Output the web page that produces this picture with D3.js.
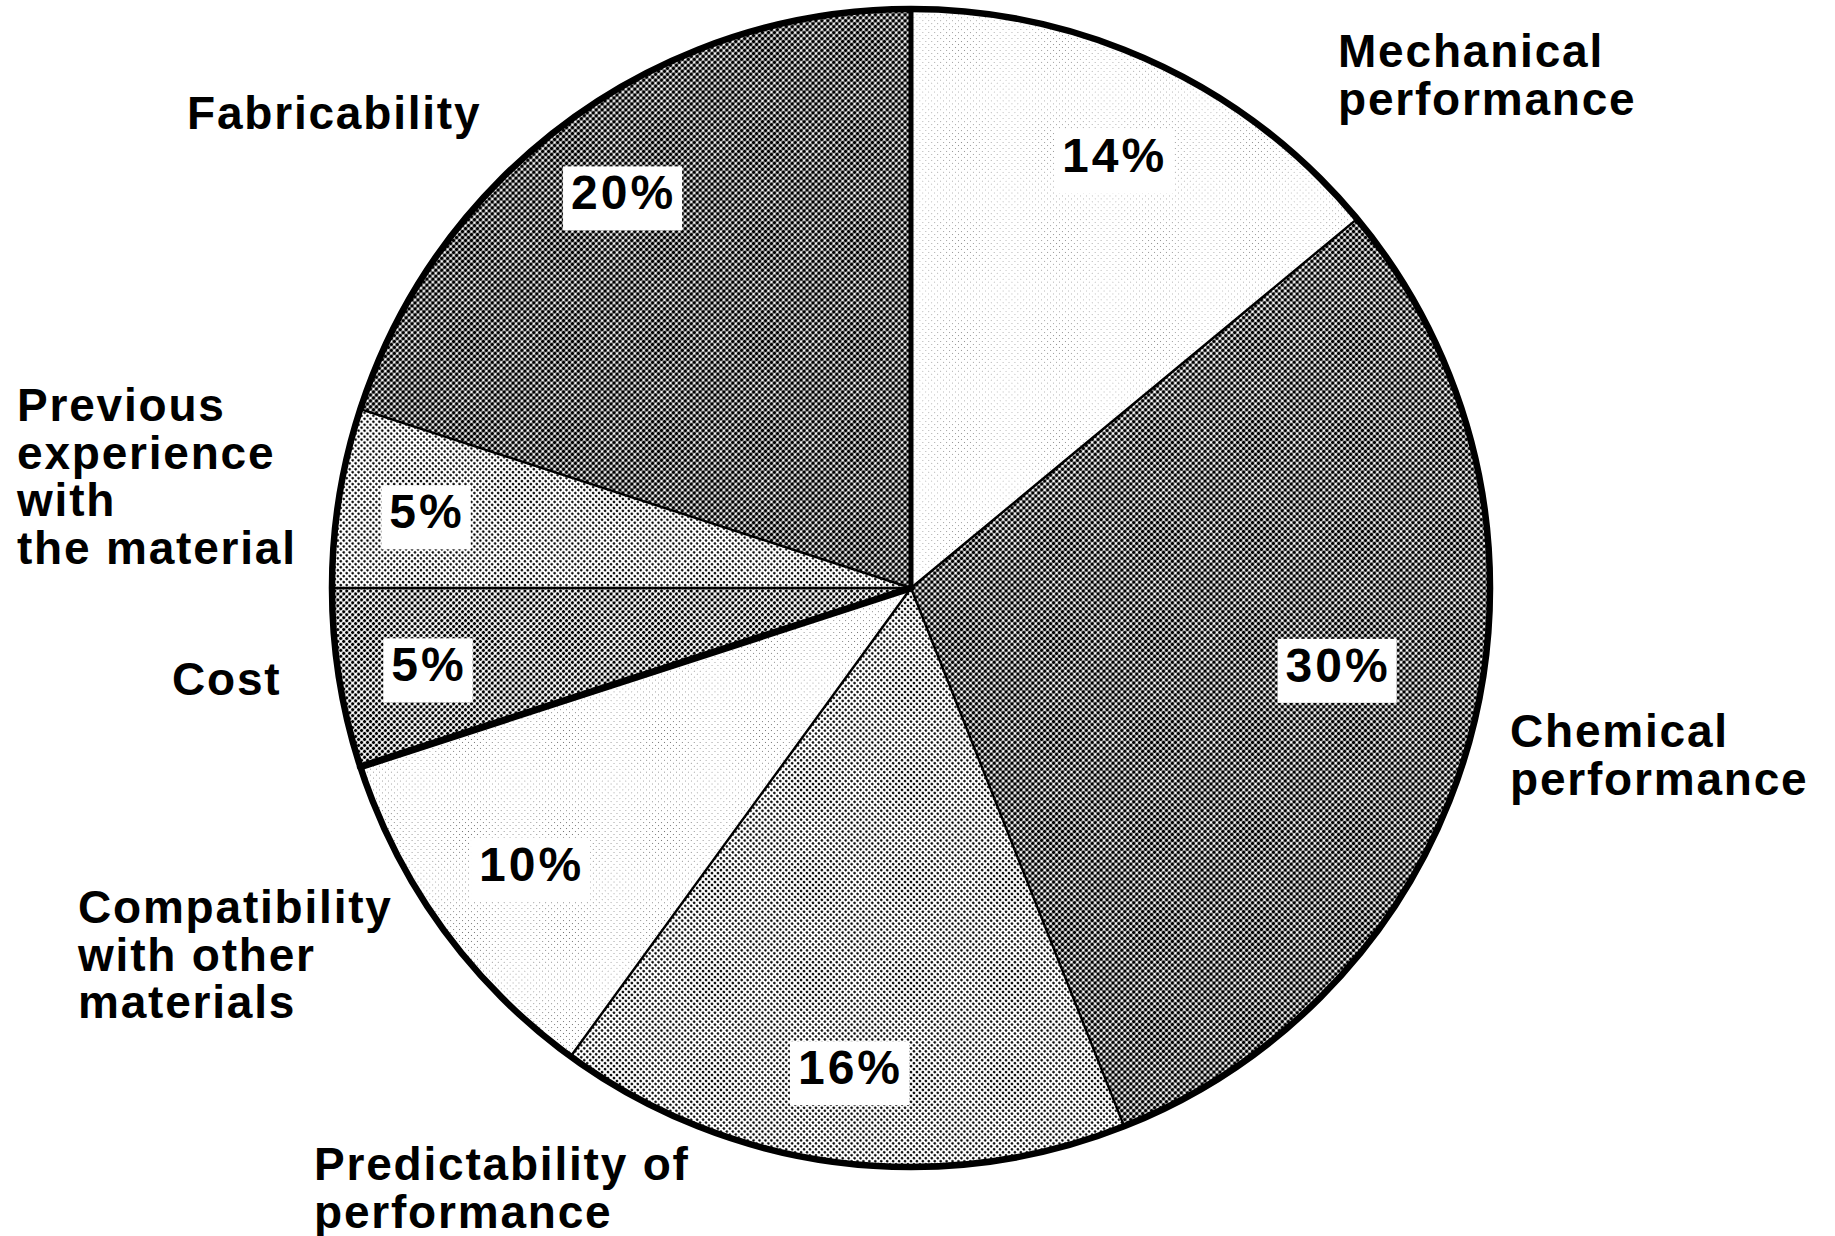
<!DOCTYPE html>
<html>
<head>
<meta charset="utf-8">
<script src="https://cdn.jsdelivr.net/npm/d3@7"></script>
<style>
  html, body { margin: 0; padding: 0; background: #fff; }
  svg text { font-family: "Liberation Sans", Arial, Helvetica, sans-serif; font-weight: bold; fill: #000; }
</style>
</head>
<body>
<svg id="chart" width="1835" height="1236"></svg>
<script>
// ---- data ----
const categories = [
  "Mechanical performance",
  "Chemical performance",
  "Predictability of performance",
  "Compatibility with other materials",
  "Cost",
  "Previous experience with the material",
  "Fabricability"
];
const shares = [14, 30, 16, 10, 5, 5, 20];
const shareLabels = ["14%", "30%", "16%", "10%", "5%", "5%", "20%"];
const labelLines = [
  ["Mechanical", "performance"],
  ["Chemical", "performance"],
  ["Predictability of", "performance"],
  ["Compatibility", "with other", "materials"],
  ["Cost"],
  ["Previous", "experience", "with", "the material"],
  ["Fabricability"]
];

// ---- styling / layout ----
const W = 1835, H = 1236;
const cx = 911, cy = 588, R = 579;
// halftone ink coverage of each slice's screen
const inkCoverage = [0.02, 0.58, 0.30, 0.03, 0.45, 0.29, 0.60];
const screenPitch = 4.2;
// category label anchors (left edge, first baseline)
const labelAnchor = [[1338, 67], [1510, 747], [314, 1180], [78, 923], [172, 695], [17, 421], [187, 129]];
const lineStep = 47.5;
// percentage label placement: distance from centre, angular shift from slice middle (deg)
const pctRadius = [478, 434, 483, 469, 488, 490, 489];
const pctShift = [0, -4.2, 0, 0, 0, 0, 0];

const svg = d3.select("#chart");
const defs = svg.append("defs");

// halftone screens
inkCoverage.forEach((c, i) => {
  const pat = defs.append("pattern")
    .attr("id", "screen" + i)
    .attr("patternUnits", "userSpaceOnUse")
    .attr("width", screenPitch).attr("height", screenPitch)
    .attr("patternTransform", "rotate(45)");
  pat.append("rect").attr("width", screenPitch).attr("height", screenPitch).attr("fill", "#fff");
  const r = screenPitch * Math.sqrt(c / Math.PI);
  pat.append("circle").attr("cx", screenPitch / 2).attr("cy", screenPitch / 2).attr("r", r).attr("fill", "#000");
});

const pie = d3.pie().sort(null).value(d => d)(shares);
const arc = d3.arc().innerRadius(0).outerRadius(R);

const g = svg.append("g").attr("transform", `translate(${cx},${cy})`);

g.selectAll("path.slice")
  .data(pie)
  .join("path")
  .attr("class", "slice")
  .attr("d", arc)
  .attr("fill", (d, i) => `url(#screen${i})`)
  .attr("stroke", "none");

// radial dividing lines at each slice start
const polar = (r, a) => [r * Math.sin(a), -r * Math.cos(a)];
g.selectAll("line.divider")
  .data(pie)
  .join("line")
  .attr("class", "divider")
  .attr("x1", 0).attr("y1", 0)
  .attr("x2", d => polar(R, d.startAngle)[0])
  .attr("y2", d => polar(R, d.startAngle)[1])
  .attr("stroke", "#000")
  .attr("stroke-width", (d, i) => i === 0 ? 5 : (i === 4 ? 7 : 2.4))
  .attr("stroke-linecap", "round");

// outer rim
g.append("circle").attr("r", R).attr("fill", "none").attr("stroke", "#000").attr("stroke-width", 6.5);

// percentage labels on white boxes
const pctFont = 48;
const pctG = g.selectAll("g.pct")
  .data(pie)
  .join("g")
  .attr("class", "pct")
  .attr("transform", (d, i) => {
    const mid = (d.startAngle + d.endAngle) / 2 + pctShift[i] * Math.PI / 180;
    const [x, y] = polar(pctRadius[i], mid);
    return `translate(${x},${y})`;
  });
pctG.each(function (d, i) {
  const el = d3.select(this);
  const t = el.append("text")
    .attr("text-anchor", "middle")
    .attr("y", 17)
    .attr("font-size", pctFont)
    .attr("letter-spacing", 3)
    .text(shareLabels[i]);
  const bb = t.node().getBBox();
  el.insert("rect", "text")
    .attr("x", -bb.width / 2 - 8)
    .attr("y", 17 - 43)
    .attr("width", bb.width + 14)
    .attr("height", 64)
    .attr("fill", "#fff");
});

// category labels
labelLines.forEach((lines, i) => {
  const t = svg.append("text")
    .attr("x", labelAnchor[i][0])
    .attr("y", labelAnchor[i][1])
    .attr("font-size", 46)
    .attr("letter-spacing", 1.8);
  lines.forEach((ln, k) => {
    t.append("tspan")
      .attr("x", labelAnchor[i][0])
      .attr("y", labelAnchor[i][1] + k * lineStep)
      .text(ln);
  });
});
</script>
</body>
</html>
